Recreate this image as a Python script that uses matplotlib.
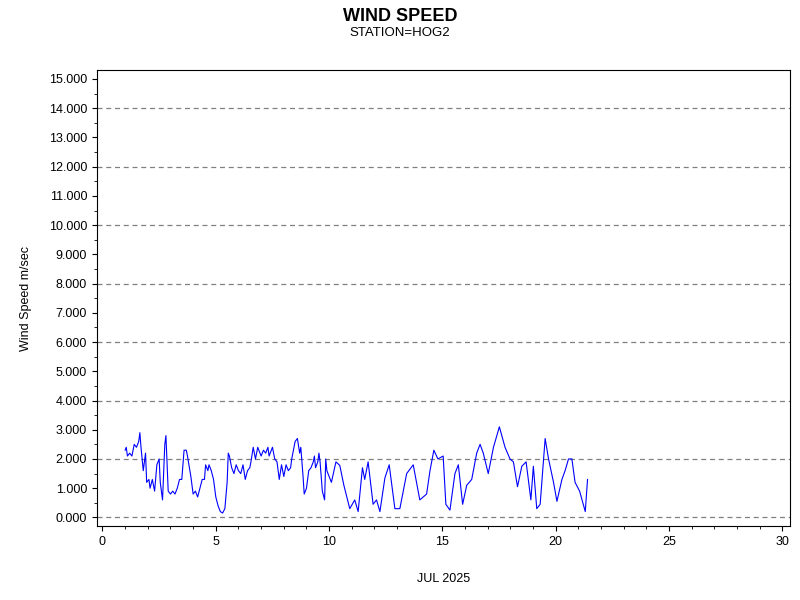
import matplotlib
matplotlib.use('Agg')
import matplotlib.pyplot as plt
from matplotlib.ticker import MultipleLocator, FormatStrFormatter

plt.rcParams['font.family'] = ['Liberation Sans', 'DejaVu Sans']

# day of July 2025, wind speed m/s
days = [1.0, 1.05, 1.1, 1.2, 1.3, 1.4, 1.5, 1.6, 1.65, 1.7, 1.8, 1.9, 1.95, 2.05, 2.1, 2.2, 2.3,
        2.4, 2.5, 2.55, 2.65, 2.75, 2.8, 2.9, 3.0, 3.1, 3.2, 3.3, 3.4, 3.5, 3.6, 3.7, 3.75, 3.9,
        4.0, 4.1, 4.2, 4.3, 4.4, 4.5, 4.55, 4.65, 4.7, 4.8, 4.9, 5.0, 5.1, 5.2, 5.3, 5.4, 5.5,
        5.55, 5.6, 5.7, 5.8, 5.9, 6.0, 6.1, 6.2, 6.3, 6.4, 6.5, 6.55, 6.65, 6.75, 6.85, 7.0,
        7.1, 7.2, 7.3, 7.35, 7.5, 7.6, 7.7, 7.8, 7.9, 8.0, 8.1, 8.2, 8.3, 8.35, 8.5, 8.6, 8.7,
        8.75, 8.85, 8.9, 9.0, 9.1, 9.2, 9.3, 9.35, 9.4, 9.5, 9.55, 9.6, 9.7, 9.8, 9.85, 9.9,
        10.1, 10.3, 10.47, 10.65, 10.91, 11.13, 11.28, 11.47, 11.57, 11.72, 11.94, 12.09,
        12.24, 12.46, 12.65, 12.9, 13.12, 13.42, 13.71, 14.0, 14.3, 14.45, 14.62, 14.8,
        15.03, 15.15, 15.33, 15.55, 15.7, 15.89, 16.07, 16.29, 16.51, 16.66, 16.8, 17.02,
        17.25, 17.51, 17.76, 17.98, 18.13, 18.31, 18.5, 18.69, 18.9, 19.01, 19.16, 19.31,
        19.53, 19.68, 19.9, 20.05, 20.27, 20.41, 20.56, 20.71, 20.85, 21.05, 21.3, 21.4]
speed = [2.3, 2.4, 2.1, 2.2, 2.1, 2.5, 2.4, 2.6, 2.9, 2.4, 1.6, 2.2, 1.2, 1.3, 1.0, 1.3, 0.9,
         1.8, 2.0, 1.2, 0.6, 2.5, 2.8, 0.9, 0.8, 0.9, 0.8, 1.0, 1.3, 1.3, 2.3, 2.3, 2.1, 1.4,
         0.8, 0.9, 0.7, 1.0, 1.3, 1.3, 1.8, 1.6, 1.8, 1.6, 1.3, 0.7, 0.4, 0.2, 0.15, 0.3, 1.2,
         2.2, 2.1, 1.7, 1.5, 1.8, 1.6, 1.5, 1.8, 1.3, 1.6, 1.7, 1.9, 2.4, 2.0, 2.4, 2.1,
         2.3, 2.2, 2.4, 2.1, 2.4, 2.0, 1.9, 1.3, 1.8, 1.4, 1.8, 1.6, 1.7, 2.0, 2.6, 2.7, 2.2,
         2.4, 1.4, 0.8, 1.0, 1.6, 1.7, 1.9, 2.1, 1.7, 1.9, 2.2, 1.9, 0.9, 0.6, 2.0, 1.6,
         1.2, 1.9, 1.78, 1.1, 0.3, 0.6, 0.2, 1.7, 1.3, 1.9, 0.45, 0.6,
         0.2, 1.35, 1.8, 0.3, 0.3, 1.5, 1.8, 0.6, 0.8, 1.6, 2.3, 2.0,
         2.1, 0.45, 0.25, 1.5, 1.8, 0.45, 1.1, 1.3, 2.2, 2.5, 2.2, 1.5,
         2.4, 3.1, 2.4, 2.0, 1.9, 1.05, 1.75, 1.9, 0.6, 1.75, 0.3, 0.45,
         2.7, 2.0, 1.2, 0.55, 1.3, 1.6, 2.0, 2.0, 1.2, 0.9, 0.2, 1.3]

fig = plt.figure(figsize=(8, 6), dpi=100)
ax = fig.add_axes([0.121, 0.123, 0.867, 0.76])
ax.plot(days, speed, color='blue', lw=0.8)

ax.set_xlim(-0.25, 30.35)
ax.set_ylim(-0.3, 15.3)
ax.xaxis.set_major_locator(MultipleLocator(5))
ax.xaxis.set_minor_locator(MultipleLocator(1))
ax.yaxis.set_major_locator(MultipleLocator(1))
ax.yaxis.set_minor_locator(MultipleLocator(0.5))
ax.yaxis.set_major_formatter(FormatStrFormatter('%.3f'))
ax.tick_params(labelsize=9)
for v in range(0, 16, 2):
    ax.axhline(v, color='gray', ls=(0, (4, 3)), lw=0.9, zorder=0)

ax.set_ylabel('Wind Speed m/sec', fontsize=9, labelpad=12)
ax.set_xlabel('JUL 2025', fontsize=9, labelpad=18)
fig.text(0.5, 0.965, 'WIND SPEED', ha='center', fontsize=13, fontweight='bold')
fig.text(0.5, 0.94, 'STATION=HOG2', ha='center', fontsize=9.5)

fig.savefig('out.png')
